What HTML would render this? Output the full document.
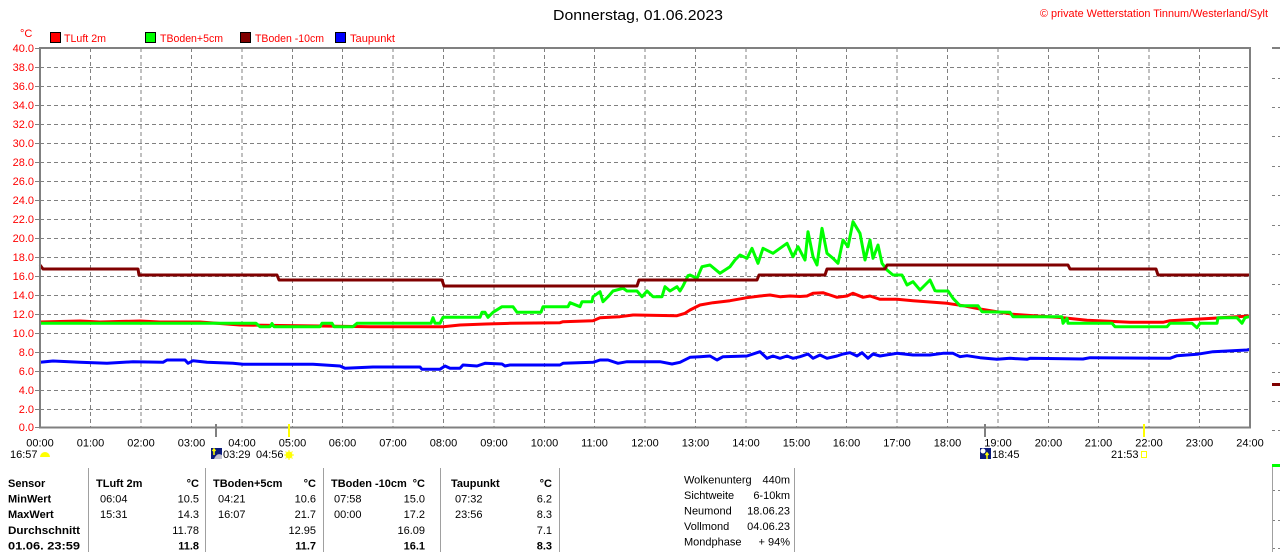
<!DOCTYPE html>
<html><head><meta charset="utf-8"><style>
html,body{margin:0;padding:0;background:#fff;}
svg{display:block;}
text{font-family:"Liberation Sans",Arial,sans-serif;}
</style></head><body>
<svg width="1280" height="552" viewBox="0 0 1280 552" xmlns="http://www.w3.org/2000/svg">
<rect width="1280" height="552" fill="#fff"/>
<!-- title -->
<text x="553" y="20" font-size="15" fill="#000" textLength="170" lengthAdjust="spacingAndGlyphs">Donnerstag, 01.06.2023</text>
<text x="1040" y="17" font-size="11" fill="#f00" textLength="228" lengthAdjust="spacingAndGlyphs">© private Wetterstation Tinnum/Westerland/Sylt</text>
<!-- legend -->
<text x="20" y="37" font-size="11" fill="#f00">°C</text>
<rect x="50.5" y="32.5" width="10" height="10" fill="#f00" stroke="#000"/>
<text x="64" y="42" font-size="11" fill="#f00" textLength="42" lengthAdjust="spacingAndGlyphs">TLuft 2m</text>
<rect x="145.5" y="32.5" width="10" height="10" fill="#0f0" stroke="#000"/>
<text x="160" y="42" font-size="11" fill="#f00" textLength="63" lengthAdjust="spacingAndGlyphs">TBoden+5cm</text>
<rect x="240.5" y="32.5" width="10" height="10" fill="#800000" stroke="#000"/>
<text x="255" y="42" font-size="11" fill="#f00" textLength="69" lengthAdjust="spacingAndGlyphs">TBoden -10cm</text>
<rect x="335.5" y="32.5" width="10" height="10" fill="#00f" stroke="#000"/>
<text x="350" y="42" font-size="11" fill="#f00" textLength="45" lengthAdjust="spacingAndGlyphs">Taupunkt</text>

<!-- grid -->
<g stroke="#808080" stroke-width="1" stroke-dasharray="4 3" fill="none">
<path d="M40 67.5H1250M40 86.5H1250M40 105.5H1250M40 124.5H1250M40 143.5H1250M40 162.5H1250M40 181.5H1250M40 200.5H1250M40 219.5H1250M40 238.5H1250M40 257.5H1250M40 276.5H1250M40 295.5H1250M40 314.5H1250M40 333.5H1250M40 352.5H1250M40 371.5H1250M40 390.5H1250M40 409.5H1250"/>
<path d="M90.5 48V428M141 48V428M191.5 48V428M242 48V428M292.5 48V428M342.5 48V428M393 48V428M443.5 48V428M494 48V428M544.5 48V428M594.5 48V428M645 48V428M695.5 48V428M746 48V428M796.5 48V428M846.5 48V428M897 48V428M947.5 48V428M998 48V428M1048.5 48V428M1098.5 48V428M1149 48V428M1199.5 48V428"/>
</g>
<!-- y ticks -->
<g stroke="#808080" stroke-width="1">
<path d="M35 48.5H40M35 67.5H40M35 86.5H40M35 105.5H40M35 124.5H40M35 143.5H40M35 162.5H40M35 181.5H40M35 200.5H40M35 219.5H40M35 238.5H40M35 257.5H40M35 276.5H40M35 295.5H40M35 314.5H40M35 333.5H40M35 352.5H40M35 371.5H40M35 390.5H40M35 409.5H40M35 427.5H40"/>
</g>
<!-- y labels -->
<g font-size="11" fill="#f00" text-anchor="end">
<text x="34" y="52">40.0</text><text x="34" y="71">38.0</text><text x="34" y="90">36.0</text><text x="34" y="109">34.0</text><text x="34" y="128">32.0</text><text x="34" y="147">30.0</text><text x="34" y="166">28.0</text><text x="34" y="185">26.0</text><text x="34" y="204">24.0</text><text x="34" y="223">22.0</text><text x="34" y="242">20.0</text><text x="34" y="261">18.0</text><text x="34" y="280">16.0</text><text x="34" y="299">14.0</text><text x="34" y="318">12.0</text><text x="34" y="337">10.0</text><text x="34" y="356">8.0</text><text x="34" y="375">6.0</text><text x="34" y="394">4.0</text><text x="34" y="413">2.0</text><text x="34" y="431">0.0</text>
</g>

<!-- series -->
<g fill="none" stroke-width="3" stroke-linejoin="round">
<polyline stroke="#f00" points="40,322 80,321 100,322 140,321 160,322 200,322 240,325 280,325.5 320,326 370,326.7 443,326.7 460,325 486,324 510,323.3 560,322.7 563,321.7 593,320.7 600,317.7 620,316.7 633,315 677,315.7 685,313.3 690,310 700,305 713,302.7 730,300.7 747,297.7 760,296 770,295 780,296.7 790,296 800,296.5 807,296 813,293.3 823,292.7 830,295 837,297.3 847,296 853,293.3 863,297.3 870,296 880,299.3 897,299.3 913,300.7 930,302 947,303.3 963,305.7 980,309 1013,314.3 1063,317.7 1087,320.3 1130,322.3 1163,322.3 1170,320.7 1213,318.3 1249,316"/>
<polyline stroke="#0f0" points="40,323.3 256,323.3 260,326.7 270,326.7 272,323.5 274,326.7 320,326.7 322,323.3 332,323.3 334,326.7 353,326.7 357,323.3 431,323.3 433,317.7 435,323.3 440,323.3 443,317.3 480,317.3 482,312.3 485,312.3 488,317.3 493,312.3 502,306.7 513,306.7 517,312.3 541,312.3 543,306.7 568,306.7 570,302.7 580,306.7 582,301.7 592,301.7 593,296.7 600,291.7 603,301.7 608,296.7 613,291 623,288.3 627,291 637,291 642,296.7 647,291 653,296.7 662,296.7 665,286.7 670,291 677,286.7 680,291 683,286 688,275.7 690,275 697,278.3 702,266.7 710,265 720,273.3 730,266.7 735,260 740,255 747,258.3 752,248.3 758,263.3 763,248.3 773,253.3 780,248.3 787,243.3 793,256.7 798,246.7 805,260 808,231.7 813,256.7 817,265 822,228.3 827,253.3 833,258.3 838,263.3 843,240 848,246.7 853,221.7 860,233.3 865,260 870,240 873,258.3 878,245 882,263.3 887,270 893,275 902,275 907,285 913,281.7 920,290 930,280 935,290.7 937,291 948,291 953,298.3 960,305.7 978,305.7 982,311.7 1010,312.3 1013,316.7 1062,316.7 1063,323.3 1067,318.3 1068,323.3 1112,323.3 1115,326.7 1167,326.7 1170,323.3 1192,323.3 1197,327.7 1200,323.3 1217,323.3 1218,317.7 1237,317.7 1242,323.3 1245,317.7 1249,316.7"/>
<polyline stroke="#800000" points="40,265 43,269 138,269 139,275 277,275 279,280 442,280 444,286 637,286 639,280 757,280 759,275 825,275 827,269 885,269 887,265 1068,265 1070,269 1156,269 1158,275 1250,275"/>
<polyline stroke="#00f" points="40,362.3 53,361 80,362.3 107,363.3 133,361.7 163,362.3 167,360 185,360 188,363.3 193,360.7 207,362.3 233,363.3 243,364.3 313,364.3 340,366 345,368.3 373,367 420,367 422,369.3 440,369.3 445,366 450,368.3 460,368.3 463,365 477,366 485,363.3 502,364 505,366 510,365 560,365 563,363.3 593,362.3 600,360 608,360 618,363.3 627,361.7 660,361.7 672,364 680,362.3 690,357.3 700,356.7 710,356 717,360 723,356.7 747,356 760,351.7 767,358.3 773,356 780,358.3 787,356 793,358.3 800,356.7 808,354 813,358.3 820,355 827,358.3 837,356 843,354 850,352.7 857,356 862,352.7 868,358.3 873,354 880,356 897,353.3 913,355 930,355 943,353.3 953,353.3 960,356.7 967,355.7 980,357.7 997,359.3 1010,358.3 1027,359.3 1030,358.3 1083,359 1090,357.7 1170,358.3 1177,355.7 1197,354.3 1213,351.7 1247,350 1250,349.3"/>
</g>

<!-- frame -->
<rect x="40" y="48" width="1210" height="379.5" fill="none" stroke="#808080" stroke-width="2"/>

<!-- axis markers -->
<rect x="215" y="424" width="2" height="13" fill="#808080"/>
<rect x="288" y="424" width="2" height="13" fill="#ffff00"/>
<rect x="984" y="424" width="2" height="13" fill="#808080"/>
<rect x="1143" y="424" width="2" height="13" fill="#ffff00"/>

<!-- x labels -->
<g font-size="11" fill="#000" text-anchor="middle">
<text x="40" y="446.5">00:00</text><text x="90.5" y="446.5">01:00</text><text x="141" y="446.5">02:00</text><text x="191.5" y="446.5">03:00</text><text x="242" y="446.5">04:00</text><text x="292.5" y="446.5">05:00</text><text x="342.5" y="446.5">06:00</text><text x="393" y="446.5">07:00</text><text x="443.5" y="446.5">08:00</text><text x="494" y="446.5">09:00</text><text x="544.5" y="446.5">10:00</text><text x="594.5" y="446.5">11:00</text><text x="645" y="446.5">12:00</text><text x="695.5" y="446.5">13:00</text><text x="746" y="446.5">14:00</text><text x="796.5" y="446.5">15:00</text><text x="846.5" y="446.5">16:00</text><text x="897" y="446.5">17:00</text><text x="947.5" y="446.5">18:00</text><text x="998" y="446.5">19:00</text><text x="1048.5" y="446.5">20:00</text><text x="1098.5" y="446.5">21:00</text><text x="1149" y="446.5">22:00</text><text x="1199.5" y="446.5">23:00</text><text x="1250" y="446.5">24:00</text>
</g>
<!-- sun/moon row -->
<g font-size="11" fill="#000">
<text x="10" y="458">16:57</text>
<text x="223" y="458">03:29</text>
<text x="256" y="458">04:56</text>
<text x="992" y="458">18:45</text>
<text x="1111" y="458">21:53</text>
</g>
<path d="M40 457 A5 5 0 0 1 50 457 Z" fill="#ffff00"/>
<rect x="211" y="448" width="11" height="11" fill="#0a1a7a"/>
<path d="M214 459 Q217 452 222 455 V459Z" fill="#c0c0d0"/>
<path d="M214 449 V455 M212.5 451 L214 449 L215.5 451" stroke="#ffff00" stroke-width="1.5" fill="none"/>
<circle cx="289" cy="455" r="3.5" fill="#ffff00"/>
<g stroke="#ffff00" stroke-width="1"><path d="M289 450V452M289 458V460M284 455H286M292 455H294M285.5 451.5L286.5 452.5M291.5 457.5L292.5 458.5M292.5 451.5L291.5 452.5M286.5 457.5L285.5 458.5"/></g>
<rect x="980" y="448" width="11" height="11" fill="#0a1a7a"/>
<circle cx="983" cy="451" r="2.5" fill="#fff"/>
<path d="M987 459 V453 M985.5 455 L987 453 L988.5 455" stroke="#ffff00" stroke-width="1.5" fill="none"/>
<rect x="1141.5" y="451.5" width="5" height="6" fill="none" stroke="#ffff00" stroke-width="1"/>

<!-- right partial chart -->
<rect x="1272" y="47" width="8" height="2" fill="#808080"/>
<g stroke="#808080" stroke-width="1" stroke-dasharray="3 3">
<path d="M1272 78.5H1280M1272 107.5H1280M1272 136.5H1280M1272 166.5H1280M1272 195.5H1280M1272 225.5H1280M1272 254.5H1280M1272 284.5H1280M1272 314.5H1280M1272 343.5H1280M1272 372.5H1280M1272 401.5H1280M1272 430.5H1280M1272 490.5H1280M1272 520.5H1280M1272 548.5H1280"/>
</g>
<rect x="1272" y="383" width="8" height="3" fill="#800000"/>
<rect x="1272" y="464" width="8" height="3" fill="#0f0"/>
<rect x="1272" y="467" width="1" height="85" fill="#a0a0a0"/>

<!-- table separators -->
<g fill="#a0a0a0">
<rect x="88" y="468" width="1" height="84"/><rect x="205" y="468" width="1" height="84"/><rect x="323" y="468" width="1" height="84"/><rect x="440" y="468" width="1" height="84"/><rect x="559" y="468" width="1" height="84"/><rect x="794" y="468" width="1" height="84"/>
</g>
<!-- table -->
<g font-size="11" fill="#000">
<g font-weight="bold">
<text x="8" y="487">Sensor</text>
<text x="8" y="502.5">MinWert</text>
<text x="8" y="518">MaxWert</text>
<text x="8" y="534" textLength="72" lengthAdjust="spacingAndGlyphs">Durchschnitt</text>
<text x="8" y="549.5" textLength="72" lengthAdjust="spacingAndGlyphs">01.06. 23:59</text>
<text x="96" y="487">TLuft 2m</text>
<text x="213" y="487">TBoden+5cm</text>
<text x="331" y="487">TBoden -10cm</text>
<text x="451" y="487">Taupunkt</text>
</g>
<g font-weight="bold" text-anchor="end">
<text x="199" y="487">°C</text><text x="316" y="487">°C</text><text x="425" y="487">°C</text><text x="552" y="487">°C</text>
<text x="199" y="549.5">11.8</text><text x="316" y="549.5">11.7</text><text x="425" y="549.5">16.1</text><text x="552" y="549.5">8.3</text>
</g>
<text x="100" y="502.5">06:04</text><text x="100" y="518">15:31</text>
<text x="218" y="502.5">04:21</text><text x="218" y="518">16:07</text>
<text x="334" y="502.5">07:58</text><text x="334" y="518">00:00</text>
<text x="455" y="502.5">07:32</text><text x="455" y="518">23:56</text>
<g text-anchor="end">
<text x="199" y="502.5">10.5</text><text x="199" y="518">14.3</text><text x="199" y="534">11.78</text>
<text x="316" y="502.5">10.6</text><text x="316" y="518">21.7</text><text x="316" y="534">12.95</text>
<text x="425" y="502.5">15.0</text><text x="425" y="518">17.2</text><text x="425" y="534">16.09</text>
<text x="552" y="502.5">6.2</text><text x="552" y="518">8.3</text><text x="552" y="534">7.1</text>
</g>
<text x="684" y="483.5">Wolkenunterg</text>
<text x="684" y="499">Sichtweite</text>
<text x="684" y="514.5">Neumond</text>
<text x="684" y="530">Vollmond</text>
<text x="684" y="545.5">Mondphase</text>
<g text-anchor="end">
<text x="790" y="483.5">440m</text>
<text x="790" y="499">6-10km</text>
<text x="790" y="514.5">18.06.23</text>
<text x="790" y="530">04.06.23</text>
<text x="790" y="545.5">+ 94%</text>
</g>
</g>
</svg>
</body></html>
